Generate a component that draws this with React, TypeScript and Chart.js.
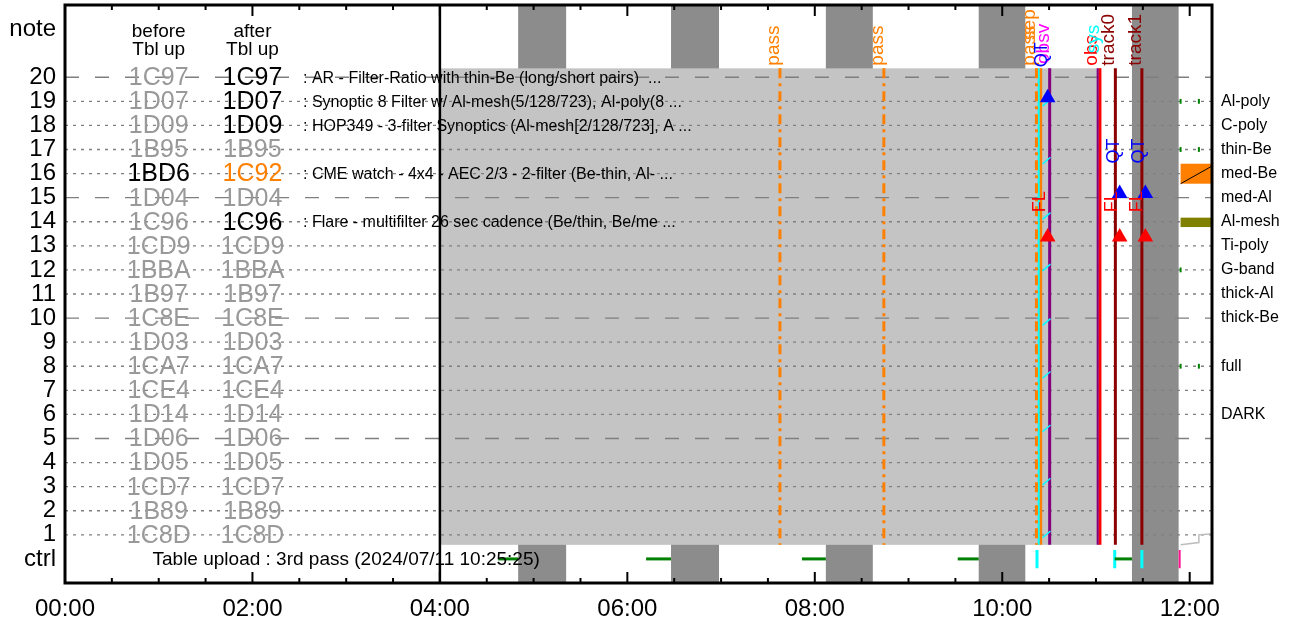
import React, { useEffect, useRef } from 'react';
import { Chart, registerables } from 'chart.js';

Chart.register(...registerables);

const FONT = "'Liberation Sans', Arial, Helvetica, sans-serif";

// ---------- axes ----------
const X_MIN = 0;
const X_MAX = 12.238;
const Y_MIN = -1;
const Y_MAX = 23;
const xTickHours = [0, 2, 4, 6, 8, 10, 12];
const xTickLabels = ['00:00', '02:00', '04:00', '06:00', '08:00', '10:00', '12:00'];
const minorTickHours = [0, 0.5, 1, 1.5, 2, 2.5, 3, 3.5, 4, 4.5, 5, 5.5, 6, 6.5, 7, 7.5, 8, 8.5, 9, 9.5, 10, 10.5, 11, 11.5, 12];

const rowNumbers = [1, 2, 3, 4, 5, 6, 7, 8, 9, 10, 11, 12, 13, 14, 15, 16, 17, 18, 19, 20];
const leftTickValues = [0, ...rowNumbers, 22];
const leftTickLabels = ['ctrl', ...rowNumbers.map(String), 'note'];

const rightRows = [19, 18, 17, 16, 15, 14, 13, 12, 11, 10, 8, 6];
const rightNames = ['Al-poly', 'C-poly', 'thin-Be', 'med-Be', 'med-Al', 'Al-mesh', 'Ti-poly', 'G-band', 'thick-Al', 'thick-Be', 'full', 'DARK'];

// ---------- table columns (row 1 .. row 20) ----------
const beforeCodes = ['1C8D', '1B89', '1CD7', '1D05', '1D06', '1D14', '1CE4', '1CA7', '1D03', '1C8E', '1B97', '1BBA', '1CD9', '1C96', '1D04', '1BD6', '1B95', '1D09', '1D07', '1C97'];
const afterCodes = ['1C8D', '1B89', '1CD7', '1D05', '1D06', '1D14', '1CE4', '1CA7', '1D03', '1C8E', '1B97', '1BBA', '1CD9', '1C96', '1D04', '1C92', '1B95', '1D09', '1D07', '1C97'];
const beforeBlackRows = [16];
const afterBlackRows = [20, 19, 18, 14];
const afterOrangeRows = [16];
const beforeColumnHour = 1;
const afterColumnHour = 2;

const descRows = [20, 19, 18, 16, 14];
const descTexts = [
  ': AR - Filter-Ratio with thin-Be (long/short pairs)  ...',
  ': Synoptic 8 Filter w/ Al-mesh(5/128/723), Al-poly(8 ...',
  ': HOP349 - 3-filter Synoptics (Al-mesh[2/128/723], A ...',
  ': CME watch - 4x4 - AEC 2/3 - 2-filter (Be-thin, Al- ...',
  ': Flare - multifilter 26 sec cadence (Be/thin, Be/me ...',
];
const descHour = 2.54;

const ctrlText = 'Table upload : 3rd pass (2024/07/11 10:25:25)';
const ctrlTextHour = 3.0;

// ---------- shaded periods ----------
const bandStarts = [4.835, 6.466, 8.118, 9.749, 11.384];
const bandEnds = [5.347, 6.978, 8.619, 10.246, 11.882];
const coverStart = 4.0;
const coverEnd = 11.055;
const coverBottomRow = 0.585;
const coverTopRow = 20.37;

// ---------- ctrl row ----------
const greenStarts = [4.622, 6.2, 7.863, 9.525, 11.2];
const greenEnds = [4.835, 6.466, 8.118, 9.749, 11.384];
const ctrlCyanTimes = [10.371, 11.2, 11.49];
const ctrlPinkTime = 11.893;
const ctrlTickLow = -0.39;
const ctrlTickHigh = 0.37;

// ---------- event lines ----------
const passTimes = [7.628, 8.737, 10.365];
const cyanTime = 10.389;
const uploadTime = 10.41;
const obsvTime = 10.506;
const obsEndTime = 11.018;
const redTime = 11.042;
const trackTimes = [11.207, 11.49];

const triTimes = [10.485, 11.253, 11.527];
const blueTriRows = [19.15, 15.17, 15.17];
const redTriRows = [13.37, 13.37, 13.37];
const qtRows = [20.42, 16.42, 16.42];
const flRow = 14.39;

const sawRows = [0.88, 3.07, 5.28, 7.5, 9.7, 11.96, 14.1, 16.4, 18.8];
const sawStart = 10.43;
const sawEnd = 10.515;
const sawRise = 0.28;

const topLabelTimes = [7.628, 8.737, 10.365, 10.365, 10.506, 11.018, 11.04, 11.207, 11.49];
const topLabelTexts = ['pass', 'pass', 'pass', 'sep', 'obsv', 'obs', 'sys', 'track0', 'track1'];
const topLabelRows = [20.48, 20.48, 20.48, 21.55, 20.55, 20.48, 21.0, 20.48, 20.48];

// ---------- right side markers ----------
const sideTickRows = [19, 19, 17, 17, 12, 8, 8];
const sideTickTimes = [11.903, 12.098, 11.903, 12.098, 11.903, 11.903, 12.098];
const medBeBox = { t0: 11.903, t1: 12.238, r0: 15.58, r1: 16.41 };
const alMeshBox = { t0: 11.903, t1: 12.238, r0: 13.78, r1: 14.17 };
const stepTimes = [11.903, 12.098, 12.098, 12.238];
const stepRows = [0.585, 0.68, 1.0, 1.04];

// ---------- colours ----------
const ORANGE = '#ff8000';
const DARKRED = '#8b0000';
const PURPLE = '#800080';
const CYAN = '#00ffff';
const RED = '#ff0000';
const BLUE = '#0000ff';
const MAGENTA = '#ff00ff';
const GREEN = '#008000';
const OLIVE = '#808000';
const GRIDGRAY = '#7f7f7f';
const CODEGRAY = '#999999';
const topLabelColors = [ORANGE, ORANGE, ORANGE, ORANGE, MAGENTA, RED, CYAN, DARKRED, DARKRED];

function seg(points: { x: number; y: number }[], color: string, width: number, dash: number[] = []) {
  return {
    type: 'line',
    data: points,
    borderColor: color,
    borderWidth: width,
    borderDash: dash,
    borderCapStyle: 'butt',
    pointRadius: 0,
    pointHoverRadius: 0,
    fill: false,
    tension: 0,
  };
}

function buildDatasets() {
  const ds: any[] = [];
  ds.push({
    type: 'scatter',
    data: triTimes.map((t, i) => ({ x: t, y: blueTriRows[i] })),
    pointStyle: 'triangle',
    pointRadius: 9,
    pointHoverRadius: 9,
    pointBackgroundColor: BLUE,
    pointBorderWidth: 0,
    showLine: false,
  });
  ds.push({
    type: 'scatter',
    data: triTimes.map((t, i) => ({ x: t, y: redTriRows[i] })),
    pointStyle: 'triangle',
    pointRadius: 9,
    pointHoverRadius: 9,
    pointBackgroundColor: RED,
    pointBorderWidth: 0,
    showLine: false,
  });
  // saw-tooth cyan diagonal ticks
  sawRows.forEach((r) => {
    ds.push(seg([{ x: sawStart, y: r }, { x: sawEnd, y: r + sawRise }], CYAN, 1.5));
  });
  // event lines
  passTimes.forEach((t) => ds.push(seg([{ x: t, y: coverTopRow }, { x: t, y: coverBottomRow }], ORANGE, 3, [10, 5, 3, 5])));
  ds.push(seg([{ x: cyanTime, y: coverTopRow }, { x: cyanTime, y: coverBottomRow }], CYAN, 2));
  ds.push(seg([{ x: uploadTime, y: coverTopRow }, { x: uploadTime, y: coverBottomRow }], ORANGE, 3));
  ds.push(seg([{ x: obsvTime, y: coverTopRow }, { x: obsvTime, y: coverBottomRow }], PURPLE, 3));
  ds.push(seg([{ x: obsEndTime, y: coverTopRow }, { x: obsEndTime, y: coverBottomRow }], PURPLE, 2));
  ds.push(seg([{ x: redTime, y: coverTopRow }, { x: redTime, y: coverBottomRow }], RED, 3));
  trackTimes.forEach((t) => ds.push(seg([{ x: t, y: coverTopRow }, { x: t, y: coverBottomRow }], DARKRED, 3)));
  // ctrl row
  greenStarts.forEach((s, i) => ds.push(seg([{ x: s, y: 0 }, { x: greenEnds[i], y: 0 }], GREEN, 3)));
  ctrlCyanTimes.forEach((t) => ds.push(seg([{ x: t, y: ctrlTickHigh }, { x: t, y: ctrlTickLow }], CYAN, 3)));
  ds.push(seg([{ x: ctrlPinkTime, y: ctrlTickHigh }, { x: ctrlPinkTime, y: ctrlTickLow }], '#ff1493', 2));
  // right side markers
  sideTickTimes.forEach((t, i) => ds.push(seg([{ x: t, y: sideTickRows[i] - 0.1 }, { x: t, y: sideTickRows[i] + 0.1 }], GREEN, 2)));
  ds.push(seg(stepTimes.map((t, i) => ({ x: t, y: stepRows[i] })), '#bdbdbd', 1.5));
  return ds;
}

function vText(ctx: CanvasRenderingContext2D, text: string, x: number, y: number, color: string, size: number) {
  ctx.save();
  ctx.translate(x, y);
  ctx.rotate(-Math.PI / 2);
  ctx.fillStyle = color;
  ctx.font = `${size}px ${FONT}`;
  ctx.textAlign = 'left';
  ctx.textBaseline = 'alphabetic';
  ctx.fillText(text, 0, 0);
  ctx.restore();
}

const backPlugin = {
  id: 'backPlugin',
  beforeDatasetsDraw(chart: any) {
    const { ctx, chartArea: a, scales } = chart;
    const X = (v: number) => scales.x.getPixelForValue(v);
    const Y = (v: number) => scales.y.getPixelForValue(v);
    ctx.save();
    // dark bands
    ctx.fillStyle = '#8c8c8c';
    bandStarts.forEach((s, i) => ctx.fillRect(X(s), a.top, X(bandEnds[i]) - X(s), a.bottom - a.top));
    // light-gray cover
    ctx.fillStyle = '#c4c4c4';
    ctx.fillRect(X(coverStart), Y(coverTopRow), X(coverEnd) - X(coverStart), Y(coverBottomRow) - Y(coverTopRow));
    // horizontal grid
    ctx.strokeStyle = GRIDGRAY;
    ctx.lineWidth = 1.3;
    rowNumbers.forEach((r) => {
      ctx.setLineDash(r % 5 === 0 ? [14, 16] : [3, 5]);
      ctx.beginPath();
      ctx.moveTo(a.left, Y(r));
      ctx.lineTo(a.right, Y(r));
      ctx.stroke();
    });
    ctx.setLineDash([]);
    // right boxes
    ctx.fillStyle = ORANGE;
    ctx.fillRect(X(medBeBox.t0), Y(medBeBox.r1), X(medBeBox.t1) - X(medBeBox.t0), Y(medBeBox.r0) - Y(medBeBox.r1));
    ctx.strokeStyle = '#000';
    ctx.lineWidth = 1;
    ctx.beginPath();
    ctx.moveTo(X(medBeBox.t0), Y(medBeBox.r0));
    ctx.lineTo(X(medBeBox.t1), Y(medBeBox.r1 - 0.1));
    ctx.stroke();
    ctx.fillStyle = OLIVE;
    ctx.fillRect(X(alMeshBox.t0), Y(alMeshBox.r1), X(alMeshBox.t1) - X(alMeshBox.t0), Y(alMeshBox.r0) - Y(alMeshBox.r1));

    // headers
    ctx.fillStyle = '#000';
    ctx.textAlign = 'center';
    ctx.textBaseline = 'middle';
    ctx.font = `19px ${FONT}`;
    ctx.fillText('before', X(beforeColumnHour), Y(21.9));
    ctx.fillText('Tbl up', X(beforeColumnHour), Y(21.15));
    ctx.fillText('after', X(afterColumnHour), Y(21.9));
    ctx.fillText('Tbl up', X(afterColumnHour), Y(21.15));
    // codes
    ctx.font = `25px ${FONT}`;
    rowNumbers.forEach((r, i) => {
      ctx.fillStyle = beforeBlackRows.includes(r) ? '#000' : CODEGRAY;
      ctx.fillText(beforeCodes[i], X(beforeColumnHour), Y(r) + 1);
      ctx.fillStyle = afterOrangeRows.includes(r) ? ORANGE : afterBlackRows.includes(r) ? '#000' : CODEGRAY;
      ctx.fillText(afterCodes[i], X(afterColumnHour), Y(r) + 1);
    });
    // descriptions
    ctx.fillStyle = '#000';
    ctx.textAlign = 'left';
    ctx.font = `16px ${FONT}`;
    descRows.forEach((r, i) => ctx.fillText(descTexts[i], X(descHour), Y(r) + 1));
    ctx.restore();
  },
  afterDatasetsDraw(chart: any) {
    const { ctx, chartArea: a, scales } = chart;
    const X = (v: number) => scales.x.getPixelForValue(v);
    const Y = (v: number) => scales.y.getPixelForValue(v);
    ctx.save();
    // rotated labels at top
    topLabelTimes.forEach((t, i) => vText(ctx, topLabelTexts[i], X(t) - 1, Y(topLabelRows[i]), topLabelColors[i], 19));
    triTimes.forEach((t, i) => vText(ctx, 'QT', X(t) - 1, Y(qtRows[i]), BLUE, 18));
    triTimes.forEach((t) => vText(ctx, 'FL', X(t) - 3, Y(flRow), RED, 18));
    // ctrl row text
    ctx.fillStyle = '#000';
    ctx.font = `19px ${FONT}`;
    ctx.textAlign = 'center';
    ctx.textBaseline = 'middle';
    ctx.fillText(ctrlText, X(ctrlTextHour), Y(0) + 1);
    // 04:00 separator
    ctx.strokeStyle = '#000';
    ctx.lineWidth = 2.5;
    ctx.beginPath();
    ctx.moveTo(X(4), a.top);
    ctx.lineTo(X(4), a.bottom);
    ctx.stroke();
    // inner ticks top & bottom
    ctx.lineWidth = 2;
    minorTickHours.forEach((h) => {
      const len = xTickHours.includes(h) ? 11 : 5;
      const px = X(h);
      ctx.beginPath();
      ctx.moveTo(px, a.bottom);
      ctx.lineTo(px, a.bottom - len);
      ctx.moveTo(px, a.top);
      ctx.lineTo(px, a.top + len);
      ctx.stroke();
    });
    // frame
    ctx.lineWidth = 3;
    ctx.strokeRect(a.left, a.top, a.right - a.left, a.bottom - a.top);
    ctx.restore();
  },
};

export default function App() {
  const ref = useRef<HTMLCanvasElement>(null);
  useEffect(() => {
    if (!ref.current) return;
    Chart.defaults.font.family = FONT;
    const chart = new Chart(ref.current, {
      type: 'line',
      data: { datasets: buildDatasets() as any },
      options: {
        responsive: false,
        animation: false,
        devicePixelRatio: 1,
        events: [],
        layout: { autoPadding: false, padding: { top: 5, left: 0, right: 0, bottom: 0 } },
        plugins: { legend: { display: false }, tooltip: { enabled: false } },
        scales: {
          x: {
            type: 'linear',
            position: 'bottom',
            min: X_MIN,
            max: X_MAX,
            grid: { display: false, drawTicks: false },
            border: { display: false },
            ticks: {
              autoSkip: false,
              maxRotation: 0,
              minRotation: 0,
              padding: 12,
              color: '#000',
              font: { size: 24, family: FONT },
              callback: (_v: any, i: number) => xTickLabels[i],
            },
            afterBuildTicks: (s: any) => {
              s.ticks = xTickHours.map((v) => ({ value: v }));
            },
            afterFit: (s: any) => {
              s.height = 42;
              s.paddingLeft = 0;
              s.paddingRight = 0;
            },
          },
          y: {
            type: 'linear',
            position: 'left',
            min: Y_MIN,
            max: Y_MAX,
            grid: { display: false, drawTicks: false },
            border: { display: false },
            ticks: {
              autoSkip: false,
              padding: 9,
              color: '#000',
              font: { size: 24, family: FONT },
              callback: (_v: any, i: number) => leftTickLabels[i],
            },
            afterBuildTicks: (s: any) => {
              s.ticks = leftTickValues.map((v) => ({ value: v }));
            },
            afterFit: (s: any) => {
              s.width = 65;
              s.paddingTop = 0;
              s.paddingBottom = 0;
            },
          },
          yR: {
            type: 'linear',
            position: 'right',
            min: Y_MIN,
            max: Y_MAX,
            grid: { display: false, drawTicks: false },
            border: { display: false },
            ticks: {
              autoSkip: false,
              padding: 9,
              color: '#000',
              font: { size: 16, family: FONT },
              callback: (_v: any, i: number) => rightNames[i],
            },
            afterBuildTicks: (s: any) => {
              s.ticks = rightRows.map((v) => ({ value: v }));
            },
            afterFit: (s: any) => {
              s.width = 84;
              s.paddingTop = 0;
              s.paddingBottom = 0;
            },
          },
        },
      } as any,
      plugins: [backPlugin],
    });
    return () => chart.destroy();
  }, []);
  return (
    <div style={{ position: 'fixed', left: 0, top: 0, width: 1296, height: 625, background: '#fff' }}>
      <canvas ref={ref} width={1296} height={625} style={{ width: 1296, height: 625, display: 'block' }} />
    </div>
  );
}
